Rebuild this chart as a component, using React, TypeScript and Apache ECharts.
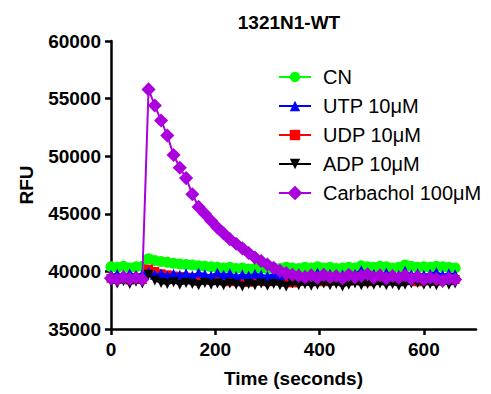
import React, { useEffect, useRef } from "react";
import * as echarts from "echarts";

const times = [0, 12, 24, 36, 48, 60, 72, 84, 96, 108, 120, 132, 144, 156, 168, 180, 192, 204, 216, 228, 240, 252, 264, 276, 288, 300, 312, 324, 336, 348, 360, 372, 384, 396, 408, 420, 432, 444, 456, 468, 480, 492, 504, 516, 528, 540, 552, 564, 576, 588, 600, 612, 624, 636, 648, 660];

const cn = [40400, 40350, 40450, 40300, 40400, 40450, 41100, 40950, 40850, 40800, 40700, 40650, 40600, 40550, 40500, 40450, 40400, 40350, 40300, 40350, 40250, 40300, 40200, 40250, 40300, 40200, 40300, 40250, 40350, 40300, 40250, 40350, 40300, 40400, 40300, 40350, 40250, 40300, 40350, 40300, 40500, 40400, 40350, 40450, 40400, 40300, 40350, 40550, 40450, 40350, 40400, 40350, 40450, 40400, 40350, 40300];
const utp = [39700, 39800, 39650, 39850, 39700, 39800, 40000, 39700, 39850, 39650, 39800, 39700, 39850, 39650, 39900, 39750, 39650, 39900, 39700, 39850, 39600, 39750, 39650, 39800, 39700, 39600, 39750, 39650, 39800, 39700, 39850, 39700, 39650, 39900, 39700, 39800, 39650, 39750, 39700, 39800, 40100, 39700, 39800, 39650, 39900, 39750, 39700, 40050, 39750, 39850, 39700, 39800, 39950, 39700, 39850, 39750];
const udp = [39400, 39300, 39350, 39250, 39400, 39300, 40200, 40000, 39800, 39700, 39600, 39550, 39500, 39450, 39400, 39300, 39350, 39200, 39300, 39100, 39250, 39200, 39050, 39300, 39150, 39100, 39250, 39200, 39150, 39000, 39300, 39150, 39250, 39200, 39100, 39300, 39200, 39350, 39150, 39250, 39200, 39100, 39300, 39200, 39250, 39400, 39150, 39300, 39200, 39100, 39350, 39250, 39150, 39300, 39200, 39300];
const adp = [39100, 38950, 39150, 38900, 39100, 38950, 39700, 39200, 39000, 38900, 39050, 38850, 39000, 38900, 38800, 39000, 38850, 38950, 38800, 38950, 38850, 38700, 38900, 38800, 38950, 38750, 38900, 38800, 38700, 38950, 38800, 38900, 38750, 38850, 38950, 38800, 38900, 38700, 38850, 38950, 38800, 38900, 38850, 38950, 38800, 38900, 38750, 38850, 38950, 39000, 38850, 38900, 38800, 39000, 38850, 38950];
const carbachol = [39400, 39300, 39500, 39350, 39450, 39300, 55800, 54400, 53100, 51800, 50100, 49000, 48100, 46700, 45600, 45000, 44400, 43800, 43300, 42800, 42400, 42000, 41600, 41200, 40900, 40600, 40300, 40050, 39850, 39700, 39600, 39500, 39650, 39450, 39700, 39500, 39600, 39400, 39700, 39500, 39600, 39750, 39450, 39650, 39400, 39600, 39450, 39650, 39350, 39550, 39300, 39450, 39350, 39200, 39400, 39300];

const xTicks = [0, 200, 400, 600];
const yTicks = [35000, 40000, 45000, 50000, 55000, 60000];

const FONT = "Liberation Sans, Arial, sans-serif";

export default function App() {
  const ref = useRef<HTMLDivElement>(null);
  useEffect(() => {
    if (!ref.current) return;
    const chart = echarts.init(ref.current, null, { renderer: "svg" });
    const mk = (arr: number[]) => arr.map((v, i) => [times[i], v]);
    const series = [
      { name: "CN", data: cn, color: "#00ff00", symbol: "circle", size: 11, rot: 0, z: 2 },
      { name: "UTP 10μM", data: utp, color: "#0000ff", symbol: "triangle", size: 10, rot: 0, z: 4 },
      { name: "UDP 10μM", data: udp, color: "#ff0000", symbol: "rect", size: 9, rot: 0, z: 3 },
      { name: "ADP 10μM", data: adp, color: "#000000", symbol: "triangle", size: 10, rot: 180, z: 5 },
      { name: "Carbachol 100μM", data: carbachol, color: "#aa00dd", symbol: "rect", size: 10, rot: 45, z: 6 },
    ].map((s) => ({
      type: "line",
      name: s.name,
      data: mk(s.data),
      symbol: s.symbol,
      symbolSize: s.size,
      symbolRotate: s.rot,
      showAllSymbol: true,
      z: s.z,
      lineStyle: { color: s.color, width: 2 },
      itemStyle: { color: s.color },
      emphasis: { disabled: true },
    }));
    const bold = { fontFamily: FONT, fontSize: 19, fontWeight: "bold", color: "#000" };
    chart.setOption({
      animation: false,
      textStyle: { fontFamily: FONT },
      title: {
        text: "1321N1-WT",
        left: 284,
        top: 8,
        textAlign: "center",
        textStyle: bold,
      },
      legend: {
        orient: "vertical",
        left: 273,
        top: 62,
        itemWidth: 32,
        itemHeight: 13,
        itemGap: 9,
        textStyle: { fontFamily: FONT, fontSize: 20, color: "#000", padding: [0, 0, 0, 7] },
        data: series.map((s) => s.name),
      },
      grid: { left: 111, right: 15, top: 41, bottom: 65, containLabel: false },
      xAxis: {
        type: "value",
        min: 0,
        max: 700,
        interval: 200,
        name: "Time (seconds)",
        nameLocation: "middle",
        nameGap: 40,
        nameTextStyle: bold,
        axisLine: { onZero: false, lineStyle: { color: "#000", width: 2.5 } },
        axisTick: { length: 6, lineStyle: { color: "#000", width: 2.5 }, customValues: xTicks },
        axisLabel: { ...bold, margin: 11, customValues: xTicks, formatter: (v: number) => String(v) },
        splitLine: { show: false },
      },
      yAxis: {
        type: "value",
        min: 35000,
        max: 60000,
        interval: 5000,
        name: "RFU",
        nameLocation: "middle",
        nameGap: 75,
        nameRotate: 90,
        nameTextStyle: bold,
        axisLine: { onZero: false, lineStyle: { color: "#000", width: 2.5 } },
        axisTick: { length: 6, lineStyle: { color: "#000", width: 2.5 }, customValues: yTicks },
        axisLabel: { ...bold, margin: 10, customValues: yTicks, formatter: (v: number) => String(v) },
        splitLine: { show: false },
      },
      series,
    });
    return () => chart.dispose();
  }, []);
  return <div ref={ref} style={{ width: 491, height: 394, position: "absolute", left: 0, top: 0 }} />;
}
